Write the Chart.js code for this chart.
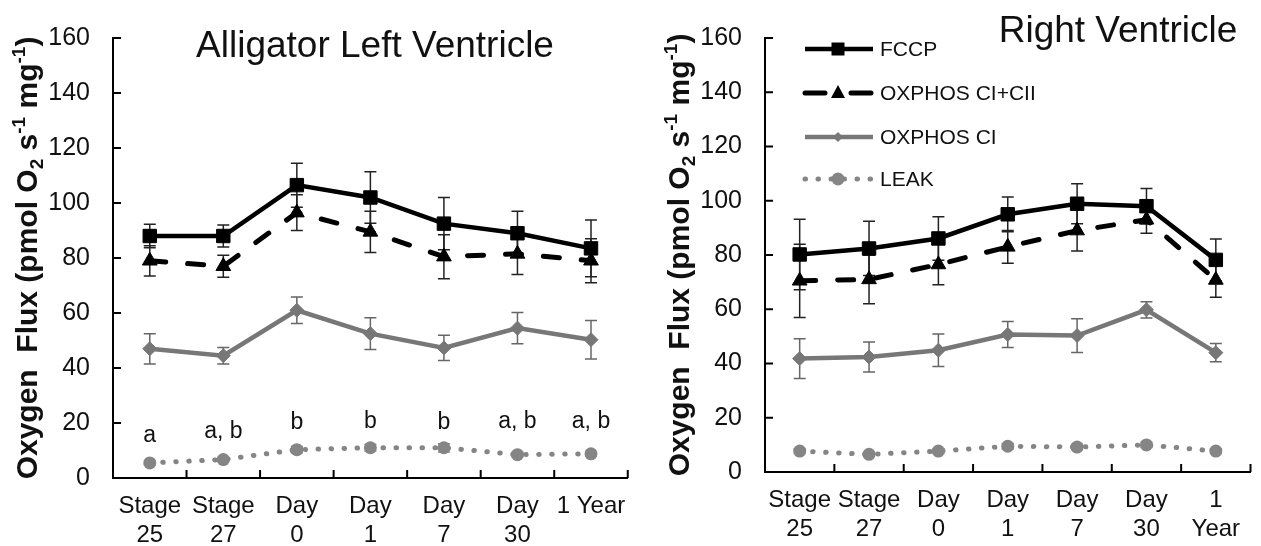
<!DOCTYPE html>
<html>
<head>
<meta charset="utf-8">
<title>Alligator ventricle oxygen flux</title>
<script src="https://cdn.jsdelivr.net/npm/chart.js@4.4.1/dist/chart.umd.min.js"></script>
<style>
  html, body { margin: 0; padding: 0; background: #fff; }
  #wrap { position: relative; width: 1261px; height: 546px; }
  .panel { position: absolute; top: 0; height: 546px; }
  #left { left: 0; width: 640px; }
  #right { left: 640px; width: 621px; }
</style>
</head>
<body>
<div id="wrap">
  <div class="panel" id="left"><canvas id="chart-left"></canvas></div>
  <div class="panel" id="right"><canvas id="chart-right"></canvas></div>
</div>
<script>
// Categories
const leftLabels = [['Stage', '25'], ['Stage', '27'], ['Day', '0'], ['Day', '1'], ['Day', '7'], ['Day', '30'], '1 Year'];
const rightLabels = [['Stage', '25'], ['Stage', '27'], ['Day', '0'], ['Day', '1'], ['Day', '7'], ['Day', '30'], ['1', 'Year']];

// Left ventricle (mean and error)
const leftFccp = [88, 88, 106.5, 102, 92.5, 89, 83.5];
const leftFccpErr = [4.3, 4, 8, 9.4, 9.5, 8, 10.3];
const leftOxCiCii = [79, 77, 96.5, 89.5, 80.5, 81.5, 79];
const leftOxCiCiiErr = [5.5, 4, 6.5, 7.5, 8, 7.5, 8];
const leftOxCi = [47, 44.5, 61, 52.5, 47.3, 54.5, 50.3];
const leftOxCiErr = [5.5, 3, 4.8, 5.8, 4.6, 5.7, 7];
const leftLeak = [5.5, 6.7, 10.3, 11, 11, 8.5, 8.8];
const leftLeakErr = [0.8, 0.8, 1.2, 1.2, 1.5, 0.8, 0.8];

// Right ventricle (mean and error)
const rightFccp = [80.2, 82.4, 86.1, 95, 98.9, 98, 78.2];
const rightFccpErr = [13, 10, 8, 6.4, 7.4, 6.5, 7.7];
const rightOxCiCii = [70.5, 71, 76.5, 83, 89, 93, 70.8];
const rightOxCiCiiErr = [13.5, 9, 7.5, 6, 7.5, 5, 6.4];
const rightOxCi = [41.8, 42.4, 44.9, 50.7, 50.3, 59.8, 44];
const rightOxCiErr = [7.3, 5.5, 6, 4.8, 6.2, 3, 3.4];
const rightLeak = [7.7, 6.5, 7.7, 9.5, 9.2, 10, 7.7];
const rightLeakErr = [0.9, 0.8, 0.9, 1, 1, 1, 0.9];

// Significance letters (left panel) and the value where their baseline sits
const sigLetters = ['a', 'a, b', 'b', 'b', 'b', 'a, b', 'a, b'];
const sigBaseline = [13, 14.4, 18, 18.3, 17.8, 18.2, 18.2];

// Y axis ticks
const yMin = 0;
const yMax = 160;
const yStep = 20;

const FONT = '"Liberation Sans", Arial, Helvetica, sans-serif';
const GRAY = '#777777';
const LEAK_GRAY = '#858585';

// Builds the four series for one panel
function buildDatasets(fccp, fccpErr, oxCiCii, oxCiCiiErr, oxCi, oxCiErr, leak, leakErr) {
  return [
    {
      label: 'FCCP',
      data: fccp,
      errors: fccpErr,
      errorColor: '#222',
      borderColor: '#000',
      backgroundColor: '#000',
      borderWidth: 4.5,
      pointStyle: 'rect',
      pointRadius: 9.5,
      pointBackgroundColor: '#000',
      pointBorderColor: '#000',
      pointBorderWidth: 1,
      legendMarker: 'square'
    },
    {
      label: 'OXPHOS CI+CII',
      data: oxCiCii,
      errors: oxCiCiiErr,
      errorColor: '#222',
      borderColor: '#000',
      backgroundColor: '#000',
      borderWidth: 5,
      borderDash: [16, 22],
      borderCapStyle: 'round',
      pointStyle: 'triangle',
      pointRadius: 8.5,
      pointBackgroundColor: '#000',
      pointBorderColor: '#000',
      pointBorderWidth: 1,
      legendMarker: 'triangle'
    },
    {
      label: 'OXPHOS CI',
      data: oxCi,
      errors: oxCiErr,
      errorColor: '#666',
      borderColor: GRAY,
      backgroundColor: GRAY,
      borderWidth: 4.5,
      pointStyle: 'rectRot',
      pointRadius: 7,
      pointBackgroundColor: GRAY,
      pointBorderColor: GRAY,
      pointBorderWidth: 1,
      legendMarker: 'diamond'
    },
    {
      label: 'LEAK',
      data: leak,
      errors: leakErr,
      errorColor: LEAK_GRAY,
      borderColor: LEAK_GRAY,
      backgroundColor: LEAK_GRAY,
      borderWidth: 5,
      borderDash: [0.5, 12.5],
      borderCapStyle: 'round',
      pointStyle: 'circle',
      pointRadius: 6.5,
      pointBackgroundColor: LEAK_GRAY,
      pointBorderColor: LEAK_GRAY,
      pointBorderWidth: 0,
      legendMarker: 'circle'
    }
  ];
}

// Error bars drawn under the lines
const errorBarsPlugin = {
  id: 'errorBars',
  beforeDatasetsDraw(chart) {
    const ctx = chart.ctx;
    const y = chart.scales.y;
    chart.data.datasets.forEach((ds, i) => {
      if (!ds.errors) return;
      const meta = chart.getDatasetMeta(i);
      ctx.save();
      ctx.strokeStyle = ds.errorColor;
      ctx.lineWidth = 1.5;
      ctx.beginPath();
      meta.data.forEach((pt, j) => {
        const top = y.getPixelForValue(ds.data[j] + ds.errors[j]);
        const bot = y.getPixelForValue(ds.data[j] - ds.errors[j]);
        ctx.moveTo(pt.x, top);
        ctx.lineTo(pt.x, bot);
        ctx.moveTo(pt.x - 6, top);
        ctx.lineTo(pt.x + 6, top);
        ctx.moveTo(pt.x - 6, bot);
        ctx.lineTo(pt.x + 6, bot);
      });
      ctx.stroke();
      ctx.restore();
    });
  }
};

// Tick marks pointing into the plot area
const innerTicksPlugin = {
  id: 'innerTicks',
  afterDraw(chart) {
    const { ctx, chartArea } = chart;
    const x = chart.scales.x;
    const y = chart.scales.y;
    ctx.save();
    ctx.strokeStyle = '#000';
    ctx.lineWidth = 2;
    ctx.beginPath();
    y.ticks.forEach(t => {
      const py = y.getPixelForValue(t.value);
      ctx.moveTo(chartArea.left, py);
      ctx.lineTo(chartArea.left + 8, py);
    });
    for (let i = 1; i <= x.ticks.length; i++) {
      const px = x.getPixelForValue(i - 0.5);
      ctx.moveTo(px, chartArea.bottom);
      ctx.lineTo(px, chartArea.bottom - 8);
    }
    ctx.stroke();
    ctx.restore();
  }
};

// Rotated y title with subscript and superscripts
const yTitlePlugin = {
  id: 'yTitle',
  afterDraw(chart) {
    const { ctx, chartArea } = chart;
    const size = 30;
    const parts = [
      { t: 'Oxygen  Flux (pmol O', s: size, dy: 0 },
      { t: '2', s: 19, dy: 6 },
      { t: ' s', s: size, dy: 0 },
      { t: '-1', s: 19, dy: -12 },
      { t: ' mg', s: size, dy: 0 },
      { t: '-1', s: 19, dy: -12 },
      { t: ')', s: size, dy: 0 }
    ];
    ctx.save();
    ctx.fillStyle = '#111';
    ctx.textBaseline = 'alphabetic';
    ctx.textAlign = 'left';
    let total = 0;
    parts.forEach(p => {
      ctx.font = 'bold ' + p.s + 'px ' + FONT;
      p.w = ctx.measureText(p.t).width;
      total += p.w;
    });
    ctx.translate(chartArea.left - 76, (chartArea.top + chartArea.bottom) / 2);
    ctx.rotate(-Math.PI / 2);
    let cx = -total / 2;
    parts.forEach(p => {
      ctx.font = 'bold ' + p.s + 'px ' + FONT;
      ctx.fillText(p.t, cx, p.dy);
      cx += p.w;
    });
    ctx.restore();
  }
};

// Panel title
function panelTitle(text, cx, baseline) {
  return {
    id: 'panelTitle',
    afterDraw(chart) {
      const ctx = chart.ctx;
      ctx.save();
      ctx.font = '37px ' + FONT;
      ctx.fillStyle = '#111';
      ctx.textAlign = 'center';
      ctx.textBaseline = 'alphabetic';
      ctx.fillText(text, cx, baseline);
      ctx.restore();
    }
  };
}

// Significance letters above the LEAK points
const lettersPlugin = {
  id: 'letters',
  afterDraw(chart) {
    const ctx = chart.ctx;
    const x = chart.scales.x;
    const y = chart.scales.y;
    ctx.save();
    ctx.font = '23px ' + FONT;
    ctx.fillStyle = '#111';
    ctx.textAlign = 'center';
    ctx.textBaseline = 'alphabetic';
    sigLetters.forEach((txt, i) => {
      ctx.fillText(txt, x.getPixelForValue(i), y.getPixelForValue(sigBaseline[i]));
    });
    ctx.restore();
  }
};

// Small legend marker shapes
function drawMarker(ctx, kind, x, y) {
  ctx.beginPath();
  if (kind === 'square') {
    ctx.rect(x - 6.5, y - 6.5, 13, 13);
  } else if (kind === 'triangle') {
    ctx.moveTo(x, y - 8);
    ctx.lineTo(x + 7, y + 5);
    ctx.lineTo(x - 7, y + 5);
    ctx.closePath();
  } else if (kind === 'diamond') {
    ctx.moveTo(x, y - 5);
    ctx.lineTo(x + 5, y);
    ctx.lineTo(x, y + 5);
    ctx.lineTo(x - 5, y);
    ctx.closePath();
  } else {
    ctx.arc(x, y, 6.5, 0, Math.PI * 2);
  }
  ctx.fill();
}

// Legend inside the right panel
const legendPlugin = {
  id: 'insideLegend',
  afterDraw(chart) {
    const ctx = chart.ctx;
    const rows = [49, 93, 137, 179];
    const x0 = 163;
    const x1 = 233;
    const xm = 198;
    chart.data.datasets.forEach((ds, i) => {
      const yy = rows[i];
      ctx.save();
      ctx.strokeStyle = ds.borderColor;
      ctx.fillStyle = ds.borderColor;
      ctx.lineWidth = ds.borderWidth;
      ctx.lineCap = ds.borderCapStyle || 'butt';
      if (ds.label === 'OXPHOS CI+CII') {
        ctx.beginPath();
        ctx.moveTo(x0 + 2, yy);
        ctx.lineTo(x0 + 22, yy);
        ctx.moveTo(x1 - 22, yy);
        ctx.lineTo(x1 - 2, yy);
        ctx.stroke();
      } else {
        ctx.setLineDash(ds.borderDash || []);
        ctx.beginPath();
        ctx.moveTo(x0 + 2, yy);
        ctx.lineTo(x1, yy);
        ctx.stroke();
      }
      ctx.setLineDash([]);
      drawMarker(ctx, ds.legendMarker, xm, yy);
      ctx.font = '21px ' + FONT;
      ctx.fillStyle = '#111';
      ctx.textAlign = 'left';
      ctx.textBaseline = 'middle';
      ctx.fillText(ds.label, 240, yy + 1);
      ctx.restore();
    });
  }
};

// Common options for one panel
function panelOptions(axisLeft, xHeight, padding) {
  return {
    responsive: true,
    maintainAspectRatio: false,
    animation: false,
    layout: { padding: padding },
    plugins: {
      legend: { display: false },
      tooltip: { enabled: false },
      title: { display: false }
    },
    elements: {
      line: { tension: 0, fill: false }
    },
    scales: {
      x: {
        type: 'category',
        offset: true,
        grid: { drawOnChartArea: false, drawTicks: false },
        border: { display: true, color: '#000', width: 2 },
        ticks: {
          font: { family: FONT, size: 24, lineHeight: 1.2 },
          color: '#111',
          padding: 14,
          maxRotation: 0,
          autoSkip: false
        },
        afterFit: s => { s.height = xHeight; }
      },
      y: {
        min: yMin,
        max: yMax,
        grid: { drawOnChartArea: false, drawTicks: false },
        border: { display: true, color: '#000', width: 2 },
        ticks: {
          stepSize: yStep,
          font: { family: FONT, size: 25 },
          color: '#111',
          padding: 23
        },
        afterFit: s => { s.width = axisLeft; }
      }
    }
  };
}

// Left panel
function initializeLeftChart() {
  const canvas = document.getElementById('chart-left');
  const chart = new Chart(canvas.getContext('2d'), {
    type: 'line',
    data: {
      labels: leftLabels,
      datasets: buildDatasets(leftFccp, leftFccpErr, leftOxCiCii, leftOxCiCiiErr, leftOxCi, leftOxCiErr, leftLeak, leftLeakErr)
    },
    options: panelOptions(113, 68, { left: 0, right: 9, top: 21, bottom: 0 }),
    plugins: [errorBarsPlugin, innerTicksPlugin, yTitlePlugin, lettersPlugin, panelTitle('Alligator Left Ventricle', 375, 57)]
  });
  canvas.chart = chart;
}

// Right panel
function initializeRightChart() {
  const canvas = document.getElementById('chart-right');
  const chart = new Chart(canvas.getContext('2d'), {
    type: 'line',
    data: {
      labels: rightLabels,
      datasets: buildDatasets(rightFccp, rightFccpErr, rightOxCiCii, rightOxCiCiiErr, rightOxCi, rightOxCiErr, rightLeak, rightLeakErr)
    },
    options: panelOptions(125, 74, { left: 0, right: 4, top: 18, bottom: 0 }),
    plugins: [errorBarsPlugin, innerTicksPlugin, yTitlePlugin, legendPlugin, panelTitle('Right Ventricle', 478, 42)]
  });
  canvas.chart = chart;
}

initializeLeftChart();
initializeRightChart();
</script>
</body>
</html>
